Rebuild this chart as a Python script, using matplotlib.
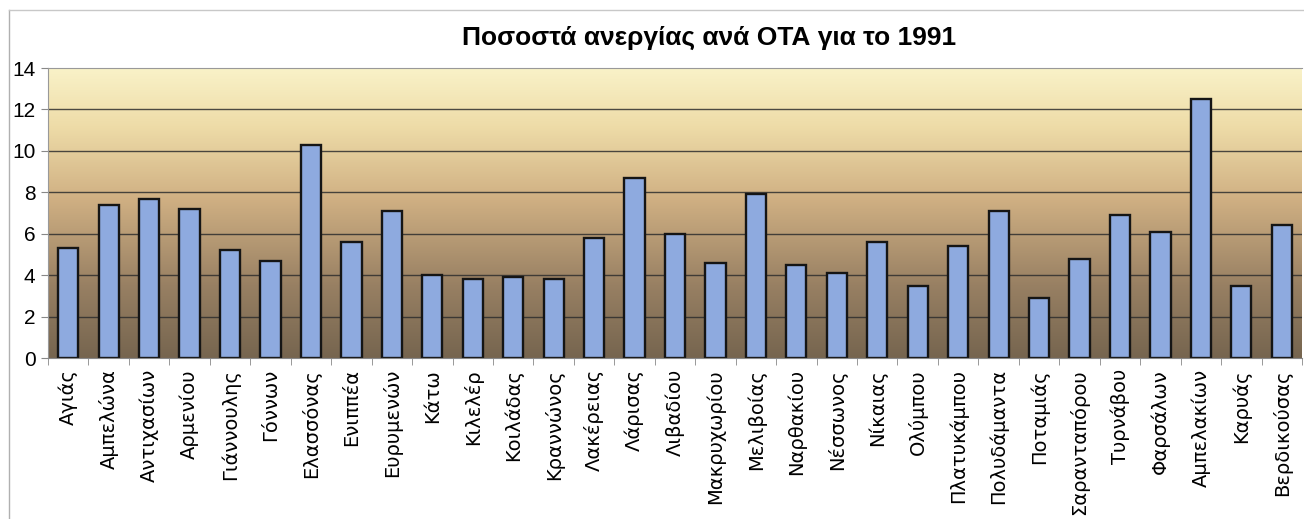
import numpy as np
import matplotlib.pyplot as plt
from matplotlib.colors import LinearSegmentedColormap
from matplotlib.lines import Line2D

# municipalities (ΟΤΑ) and unemployment rate for 1991
ota = ["Αγιάς", "Αμπελώνα", "Αντιχασίων", "Αρμενίου", "Γιάννουλης", "Γόννων",
       "Ελασσόνας", "Ενιππέα", "Ευρυμενών", "Κάτω", "Κιλελέρ", "Κοιλάδας",
       "Κραννώνος", "Λακέρειας", "Λάρισας", "Λιβαδίου", "Μακρυχωρίου",
       "Μελιβοίας", "Ναρθακίου", "Νέσσωνος", "Νίκαιας", "Ολύμπου",
       "Πλατυκάμπου", "Πολυδάμαντα", "Ποταμιάς", "Σαρανταπόρου", "Τυρνάβου",
       "Φαρσάλων", "Αμπελακίων", "Καρυάς", "Βερδικούσας"]
anergia = [5.3, 7.4, 7.7, 7.2, 5.2, 4.7, 10.3, 5.6, 7.1, 4.0, 3.8, 3.9,
           3.8, 5.8, 8.7, 6.0, 4.6, 7.9, 4.5, 4.1, 5.6, 3.5, 5.4, 7.1,
           2.9, 4.8, 6.9, 6.1, 12.5, 3.5, 6.4]
y_ticks = [0, 2, 4, 6, 8, 10, 12, 14]

W, H = 1304, 519
fig = plt.figure(figsize=(W / 100, H / 100), dpi=100)
fig.patch.set_facecolor("white")
ax = fig.add_axes([48 / W, 1 - 358 / H, (1302 - 48) / W, (358 - 68) / H])

x = np.arange(len(ota))
ax.set_xlim(-0.5, len(ota) - 0.5)
ax.set_ylim(0, 14)

# yellow-to-brown vertical gradient behind the bars
grad = LinearSegmentedColormap.from_list(
    "bg", [(0.0, "#76654f"), (0.25, "#988063"), (0.55, "#d0b083"),
           (0.8, "#eedca8"), (1.0, "#f9f2c8")])
ax.imshow(np.linspace(0, 1, 256).reshape(-1, 1), aspect="auto", cmap=grad,
          extent=(-0.5, len(ota) - 0.5, 0, 14), origin="lower", zorder=0)

for v in y_ticks[1:-1]:
    ax.axhline(v, color="#2e2e2e", lw=1.0, alpha=0.85, zorder=1)

ax.bar(x, anergia, width=0.5, color="#8eaadf", edgecolor="#151515",
       linewidth=1.7, zorder=2)

ax.set_yticks(y_ticks)
ax.set_yticklabels([str(v) for v in y_ticks], fontsize=15,
                   family=["Liberation Sans", "DejaVu Sans"])
ax.set_xticks(x)
ax.set_xticklabels(ota, rotation=90, fontsize=14,
                   family=["DejaVu Sans"])
ax.set_xticks(np.arange(len(ota) + 1) - 0.5, minor=True)
ax.tick_params(axis="x", which="major", length=0, pad=8)
ax.tick_params(axis="x", which="minor", length=5, color="#888888")
ax.tick_params(axis="y", length=5, color="#888888", pad=4)

ax.spines["right"].set_visible(False)
ax.spines["top"].set_color("#999999")
ax.spines["left"].set_color("#999999")
ax.spines["bottom"].set_color("#888888")

fig.text(709 / W, 1 - 38 / H, "Ποσοστά ανεργίας ανά ΟΤΑ για το 1991",
         ha="center", va="center", fontsize=19, fontweight="bold",
         family=["Liberation Sans Narrow", "Liberation Sans", "DejaVu Sans"])

# thin frame of the chart area
fig.add_artist(Line2D([9 / W, 9 / W], [0, 1 - 10 / H], color="#b0b0b0", lw=1))
fig.add_artist(Line2D([9 / W, 1], [1 - 10 / H, 1 - 10 / H], color="#c8c8c8", lw=1))

fig.savefig("out.png", dpi=100)
